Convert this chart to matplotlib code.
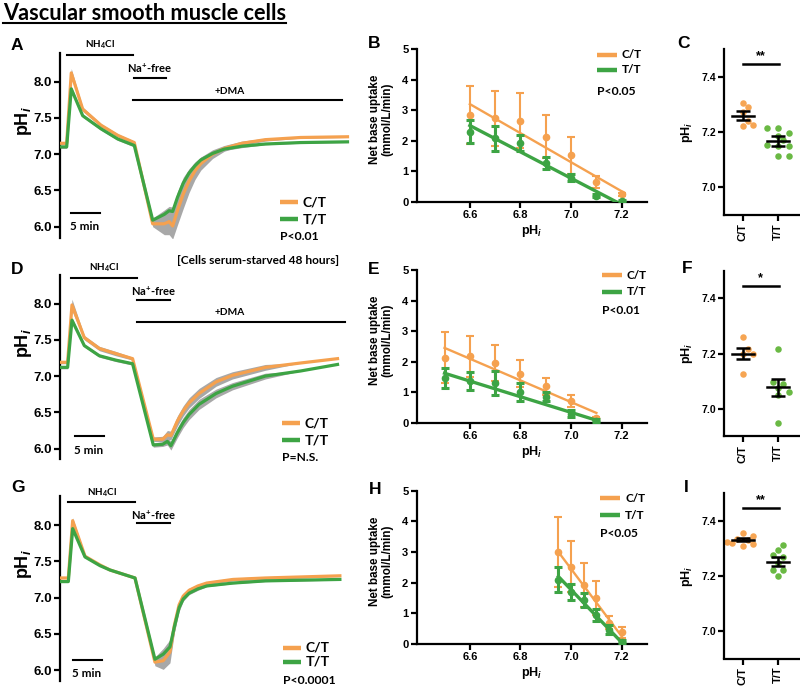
import numpy as np
import matplotlib
matplotlib.use('agg')
import matplotlib.pyplot as plt
from matplotlib.lines import Line2D

W, H = 800, 692
ORANGE = '#F5A14F'
GREEN = '#3DA444'
ORANGE_DOT = '#F6A553'
GREEN_DOT = '#6AB944'
GRAY = '#A8A8A8'
SANS = 'Liberation Sans'
NOTE = 'Lato'

plt.rcParams['font.family'] = [SANS, 'DejaVu Sans']
plt.rcParams['font.weight'] = 'bold'
plt.rcParams['axes.labelweight'] = 'bold'
plt.rcParams['mathtext.fontset'] = 'custom'
plt.rcParams['mathtext.rm'] = 'Lato:bold'
plt.rcParams['mathtext.bf'] = 'Lato:bold'
plt.rcParams['mathtext.it'] = 'Liberation Sans:italic:bold'

# ---------------- pH traces (time in min, pH) ----------------
a_time = [0, 1.14, 1.92, 3.87, 6.98, 9.83, 12.66, 15.8, 17.77, 18.6, 19.2,
          20, 21, 22, 23, 24, 26, 28, 31, 35, 41, 49]
a_ct = [7.15, 7.15, 8.12, 7.62, 7.40, 7.26, 7.16, 6.04, 6.04, 6.07, 6.01,
        6.22, 6.45, 6.63, 6.77, 6.87, 7.00, 7.08, 7.15, 7.20, 7.23, 7.24]
a_tt = [7.10, 7.10, 7.90, 7.53, 7.35, 7.21, 7.12, 6.09, 6.17, 6.22, 6.21,
        6.40, 6.60, 6.74, 6.84, 6.92, 7.01, 7.07, 7.11, 7.14, 7.16, 7.17]
a_ct_sem = [0.02, 0.02, 0.06, 0.03, 0.02, 0.02, 0.02, 0.04, 0.15, 0.18, 0.18,
            0.20, 0.20, 0.16, 0.12, 0.09, 0.06, 0.04, 0.03, 0.02, 0.01, 0.01]
a_tt_sem = [0.02, 0.02, 0.04, 0.02, 0.02, 0.02, 0.02, 0.03, 0.06, 0.06, 0.06,
            0.08, 0.08, 0.06, 0.05, 0.04, 0.03, 0.02, 0.02, 0.01, 0.01, 0.01]

d_time = [0, 1.3, 2.04, 4.14, 6.7, 9.5, 12.37, 15.9, 17.5, 18.3, 18.9,
          20, 21, 22, 23.7, 26.6, 29.4, 35, 41, 47.3]
d_ct = [7.19, 7.19, 7.98, 7.53, 7.38, 7.31, 7.24, 6.13, 6.13, 6.19, 6.18,
        6.38, 6.52, 6.63, 6.76, 6.92, 7.01, 7.12, 7.18, 7.24]
d_tt = [7.12, 7.12, 7.77, 7.42, 7.28, 7.22, 7.17, 6.05, 6.06, 6.10, 6.04,
        6.22, 6.36, 6.47, 6.61, 6.76, 6.86, 7.00, 7.07, 7.16]
d_ct_sem = [0.02, 0.02, 0.08, 0.03, 0.03, 0.03, 0.02, 0.03, 0.04, 0.06, 0.06,
            0.07, 0.07, 0.07, 0.07, 0.06, 0.05, 0.04, 0.0, 0.0]
d_tt_sem = [0.02, 0.02, 0.04, 0.02, 0.02, 0.02, 0.02, 0.03, 0.03, 0.05, 0.06,
            0.07, 0.07, 0.07, 0.07, 0.06, 0.05, 0.04, 0.0, 0.0]

g_time = [0, 1.42, 2.16, 4.26, 6.81, 8.52, 12.78, 16.18, 17.6, 18.74,
          19.5, 20.3, 21, 22, 23.5, 25, 29.5, 35, 47.7]
g_ct = [7.27, 7.27, 8.06, 7.57, 7.45, 7.38, 7.27, 6.11, 6.13, 6.25,
        6.62, 6.90, 7.02, 7.10, 7.16, 7.20, 7.25, 7.27, 7.30]
g_tt = [7.22, 7.22, 7.95, 7.56, 7.44, 7.38, 7.27, 6.15, 6.22, 6.32,
        6.60, 6.86, 6.98, 7.06, 7.12, 7.16, 7.20, 7.23, 7.25]
g_ct_sem = [0.01, 0.01, 0.04, 0.02, 0.01, 0.01, 0.01, 0.05, 0.12, 0.15,
            0.10, 0.06, 0.04, 0.03, 0.02, 0.02, 0.02, 0.02, 0.01]
g_tt_sem = [0.01, 0.01, 0.02, 0.01, 0.01, 0.01, 0.01, 0.03, 0.08, 0.10,
            0.08, 0.05, 0.03, 0.02, 0.02, 0.01, 0.01, 0.01, 0.01]

# solution periods (min)
a_nh4cl, a_nafree, a_dma = (1.14, 12.49), (12.56, 18.1), (12.49, 48.0)
d_nh4cl, d_nafree, d_dma = (1.82, 13.07), (13.07, 18.74), (13.07, 48.55)
g_nh4cl, g_nafree = (1.41, 12.78), (13.07, 18.74)
SCALE_MIN = 5

# ---------------- net base uptake vs pHi ----------------
b_ph = [6.6, 6.7, 6.8, 6.9, 7.0, 7.1, 7.2]
b_ct = [2.84, 2.73, 2.66, 2.13, 1.52, 0.66, 0.25]
b_ct_err = [0.95, 0.90, 0.90, 0.70, 0.60, 0.20, 0.05]
b_tt = [2.30, 2.08, 1.92, 1.27, 0.80, 0.20, 0.03]
b_tt_err = [0.37, 0.40, 0.26, 0.20, 0.12, 0.05, 0.03]
b_ct_fit = ([6.6, 7.2], [3.2, 0.35])
b_tt_fit = ([6.6, 7.18], [2.5, 0.0])

e_ph = [6.5, 6.6, 6.7, 6.8, 6.9, 7.0, 7.1]
e_ct = [2.13, 2.17, 1.96, 1.61, 1.20, 0.70, 0.14]
e_ct_err = [0.83, 0.67, 0.58, 0.45, 0.28, 0.20, 0.05]
e_tt = [1.46, 1.37, 1.30, 1.01, 0.85, 0.30, 0.07]
e_tt_err = [0.32, 0.30, 0.38, 0.30, 0.15, 0.12, 0.04]
e_ct_fit = ([6.5, 7.1], [2.45, 0.32])
e_tt_fit = ([6.5, 7.1], [1.62, 0.08])

h_ph = [6.95, 7.0, 7.05, 7.1, 7.15, 7.2]
h_ct = [3.00, 2.52, 1.92, 1.50, 0.70, 0.38]
h_ct_err = [1.15, 0.84, 0.72, 0.54, 0.20, 0.18]
h_tt = [2.10, 1.70, 1.43, 0.94, 0.46, 0.08]
h_tt_err = [0.42, 0.25, 0.23, 0.20, 0.15, 0.05]
h_ct_fit = ([6.95, 7.2], [3.0, 0.25])
h_tt_fit = ([6.95, 7.2], [2.2, 0.05])

# ---------------- resting pHi ----------------
groups = ['C/T', 'T/T']
c_ct = [7.305, 7.29, 7.274, 7.24, 7.225, 7.222]
c_tt = [7.214, 7.214, 7.195, 7.184, 7.172, 7.154, 7.15, 7.15, 7.114, 7.114]
c_mean, c_sem = [7.259, 7.168], [0.017, 0.017]
f_ct = [7.258, 7.217, 7.2, 7.2, 7.125]
f_tt = [7.217, 7.095, 7.09, 7.075, 7.06, 7.05, 6.95]
f_mean, f_sem = [7.2, 7.077], [0.021, 0.03]
i_ct = [7.355, 7.345, 7.335, 7.33, 7.325, 7.32, 7.315, 7.31]
i_tt = [7.313, 7.295, 7.276, 7.268, 7.246, 7.222, 7.222, 7.2]
i_mean, i_sem = [7.332, 7.252], [0.006, 0.016]

fig = plt.figure(figsize=(W / 100, H / 100), dpi=100)
to_fit = []   # (text, wanted width in px)


def px_axes(left, top, right, bottom):
    return fig.add_axes([left / W, 1 - bottom / H, (right - left) / W, (bottom - top) / H])


def style_axes(ax, lw=1.6):
    for s in ['top', 'right']:
        ax.spines[s].set_visible(False)
    for s in ['left', 'bottom']:
        ax.spines[s].set_linewidth(lw)
    ax.tick_params(width=lw, length=4, direction='out')


def note(ax, x, y, s, width, trans=None, ha='center', size=8):
    t = ax.text(x, y, s, transform=trans or ax.transAxes, ha=ha, va='center',
                fontsize=size, family=NOTE, fontweight='bold')
    to_fit.append((t, width))
    return t


def draw_trace(ax, t, ct, tt, ct_sem, tt_sem):
    t, ct, tt = np.array(t), np.array(ct), np.array(tt)
    ct_sem, tt_sem = np.array(ct_sem), np.array(tt_sem)
    ax.fill_between(t, ct - ct_sem, ct + ct_sem, color=GRAY, lw=0, zorder=1)
    ax.fill_between(t, tt - tt_sem, tt + tt_sem, color=GRAY, lw=0, zorder=1)
    ax.plot(t, ct, color=ORANGE, lw=2.3, zorder=3)
    ax.plot(t, tt, color=GREEN, lw=2.3, zorder=4)
    ax.set_xlim(0, 51.3)
    ax.set_ylim(5.85, 8.4)
    ax.set_yticks([6.0, 6.5, 7.0, 7.5, 8.0])
    ax.yaxis.set_major_formatter('{x:.1f}')
    ax.set_xticks([])
    style_axes(ax)
    ax.spines['bottom'].set_visible(False)
    ax.tick_params(axis='y', labelsize=9.5, pad=1.5)
    ax.set_ylabel('pH$_i$', fontsize=13, va='center')
    ax.yaxis.set_label_coords(-0.122, 0.63)


def period(ax, span, y_bar, y_txt, label, width, x_txt=None):
    trans = ax.get_xaxis_transform()
    ax.plot(span, [y_bar, y_bar], color='black', lw=1.5, transform=trans, clip_on=False)
    xc = np.mean(span) if x_txt is None else x_txt
    note(ax, xc, y_txt, label, width, trans=trans)


def scale_bar(ax, start, y_bar, y_txt):
    trans = ax.get_xaxis_transform()
    ax.plot([start, start + SCALE_MIN], [y_bar, y_bar], color='black', lw=1.5, transform=trans)
    note(ax, start - 0.1, y_txt, '%d min' % SCALE_MIN, 29, trans=trans, ha='left')


def key(ax, x, seg, y1, y2, yp, ptxt, lab_w, p_w):
    for y, c, lab in [(y1, ORANGE, groups[0]), (y2, GREEN, groups[1])]:
        ax.plot([x, x + seg], [y, y], color=c, lw=3.2, transform=ax.transAxes,
                clip_on=False, solid_capstyle='butt')
        note(ax, x + seg * 1.25, y, lab, lab_w, ha='left', size=10)
    note(ax, x, yp, ptxt, p_w, ha='left', size=9)


def draw_rate(ax, ph, ct, ct_err, tt, tt_err, ct_fit, tt_fit):
    ax.errorbar(ph, ct, yerr=ct_err, fmt='o', color=ORANGE, ms=4.5, elinewidth=1.5,
                capsize=3.2, capthick=1.5, zorder=3)
    ax.plot(*ct_fit, color=ORANGE, lw=1.7, zorder=3)
    ax.errorbar(ph, tt, yerr=tt_err, fmt='o', color=GREEN, ms=4.5, elinewidth=2.2,
                capsize=3.2, capthick=2.2, zorder=4)
    ax.plot(*tt_fit, color=GREEN, lw=2.4, zorder=4)
    ax.set_xlim(6.39, 7.3)
    ax.set_ylim(0, 5)
    ax.set_xticks([6.6, 6.8, 7.0, 7.2])
    ax.xaxis.set_major_formatter('{x:.1f}')
    ax.set_yticks(range(6))
    style_axes(ax)
    ax.tick_params(labelsize=8, pad=2)
    ax.set_xlabel('pH$_i$', fontsize=9, labelpad=2)
    ax.set_ylabel('Net base uptake\n(mmol/L/min)', fontsize=8.4, va='center', linespacing=1.05)
    ax.yaxis.set_label_coords(-0.153, 0.54)


def swarm_offsets(ax, pos, vals, diam=6.3):
    to_px = ax.transData.transform
    ppu = to_px((pos + 1, 0))[0] - to_px((pos, 0))[0]
    placed = []
    offs = np.zeros(len(vals))
    for i in np.argsort(vals):
        y = to_px((pos, vals[i]))[1]
        for k in [0, 1, -1, 2, -2, 3, -3]:
            dx = k * diam * 0.85
            if all((dx - px) ** 2 + (y - py) ** 2 >= diam ** 2 for px, py in placed):
                break
        placed.append((dx, y))
        offs[i] = dx / ppu
    return offs


def draw_dots(ax, ct, tt, means, sems, star, y_sig):
    ax.set_xlim(-0.52, 1.6)
    ax.set_ylim(6.9, 7.5)
    for i, (vals, col) in enumerate([(ct, ORANGE_DOT), (tt, GREEN_DOT)]):
        vals = np.array(vals)
        ax.scatter(i + swarm_offsets(ax, i, vals), vals, s=22, color=col, lw=0, zorder=2)
        ax.plot([i - 0.31, i + 0.31], [means[i], means[i]], color='black', lw=1.8, zorder=3)
        ax.errorbar(i, means[i], yerr=sems[i], color='black', capsize=5, elinewidth=1.8,
                    capthick=1.8, zorder=3)
    ax.plot([0, 1.02], [y_sig, y_sig], color='black', lw=1.8)
    ax.text(0.51, y_sig + 0.006, star, ha='center', va='bottom', fontsize=9)
    ax.set_xticks([0, 1])
    ax.set_xticklabels(groups, rotation=90)
    ax.set_yticks([7.0, 7.2, 7.4])
    ax.yaxis.set_major_formatter('{x:.1f}')
    style_axes(ax)
    ax.tick_params(labelsize=7.5, pad=2)
    ax.tick_params(axis='x', labelsize=8)
    ax.set_ylabel('pH$_i$', fontsize=9, va='center')
    ax.yaxis.set_label_coords(-0.5, 0.5)


# ---- traces ----
ax_a = px_axes(60, 52.6, 361, 237.6)
draw_trace(ax_a, a_time, a_ct, a_tt, a_ct_sem, a_tt_sem)
period(ax_a, a_nh4cl, 0.987, 1.041, 'NH$_4$Cl', 30)
period(ax_a, a_nafree, 0.864, 0.915, 'Na$^{+}$-free', 45)
period(ax_a, a_dma, 0.744, 0.79, '+DMA', 30, x_txt=29)
scale_bar(ax_a, 1.82, 0.135, 0.059)
key(ax_a, 0.731, 0.06, 0.192, 0.099, 0.005, 'P<0.01', 24, 39)

ax_d = px_axes(60, 274.5, 361, 459.5)
draw_trace(ax_d, d_time, d_ct, d_tt, d_ct_sem, d_tt_sem)
period(ax_d, d_nh4cl, 0.983, 1.035, 'NH$_4$Cl', 30)
period(ax_d, d_nafree, 0.862, 0.907, 'Na$^{+}$-free', 45)
period(ax_d, d_dma, 0.742, 0.792, '+DMA', 30, x_txt=29)
scale_bar(ax_d, 2.56, 0.127, 0.051)
key(ax_d, 0.737, 0.06, 0.196, 0.105, 0.0135, 'P=N.S.', 24, 36)
note(ax_d, 0.658, 1.073, '[Cells serum-starved 48 hours]', 162)

ax_g = px_axes(60, 496, 361, 681)
draw_trace(ax_g, g_time, g_ct, g_tt, g_ct_sem, g_tt_sem)
period(ax_g, g_nh4cl, 0.966, 1.02, 'NH$_4$Cl', 30)
period(ax_g, g_nafree, 0.852, 0.897, 'Na$^{+}$-free', 45)
scale_bar(ax_g, 2.2, 0.114, 0.042)
key(ax_g, 0.74, 0.06, 0.18, 0.104, 0.0, 'P<0.0001', 24, 53)

# ---- base uptake ----
ax_b = px_axes(416.7, 49, 647, 202)
draw_rate(ax_b, b_ph, b_ct, b_ct_err, b_tt, b_tt_err, b_ct_fit, b_tt_fit)
key(ax_b, 0.782, 0.087, 0.961, 0.863, 0.721, 'P<0.05', 20, 39)

ax_e = px_axes(416.7, 270, 647, 422.7)
draw_rate(ax_e, e_ph, e_ct, e_ct_err, e_tt, e_tt_err, e_ct_fit, e_tt_fit)
key(ax_e, 0.803, 0.087, 0.967, 0.857, 0.738, 'P<0.01', 20, 38)

ax_h = px_axes(416.7, 490.7, 647, 644)
draw_rate(ax_h, h_ph, h_ct, h_ct_err, h_tt, h_tt_err, h_ct_fit, h_tt_fit)
key(ax_h, 0.796, 0.087, 0.95, 0.841, 0.722, 'P<0.05', 20, 38)

# ---- resting pHi ----
ax_c = px_axes(724.3, 49, 799, 215)
draw_dots(ax_c, c_ct, c_tt, c_mean, c_sem, '**', 7.445)
ax_f = px_axes(724.3, 270.7, 799, 436.3)
draw_dots(ax_f, f_ct, f_tt, f_mean, f_sem, '*', 7.444)
ax_i = px_axes(724.3, 493.5, 799, 658.5)
draw_dots(ax_i, i_ct, i_tt, i_mean, i_sem, '**', 7.448)

# ---- panel letters and title ----
letters = {'A': (17, 45), 'B': (374, 44), 'C': (683, 43), 'D': (17, 270), 'E': (374, 270),
           'F': (687, 269), 'G': (18, 488), 'H': (375, 490), 'I': (686, 488)}
for lab, (x, y) in letters.items():
    fig.text(x / W, 1 - y / H, lab, ha='center', va='center', fontsize=12.5, fontweight='bold')

title = fig.text(3 / W, 1 - 20.5 / H, 'Vascular smooth muscle cells', ha='left', va='baseline',
                 fontsize=16, family=NOTE, fontweight='bold')
to_fit.append((title, 284))

# match the written notes to their widths in the reference
fig.canvas.draw()
for txt, width in to_fit:
    txt.set_fontsize(txt.get_fontsize() * width / txt.get_window_extent().width)
fig.canvas.draw()
bb = title.get_window_extent()
fig.add_artist(Line2D([bb.x0 / W, bb.x1 / W], [1 - 22.7 / H] * 2, lw=1.5, color='black',
                      transform=fig.transFigure))

fig.savefig('out.png', dpi=100)
